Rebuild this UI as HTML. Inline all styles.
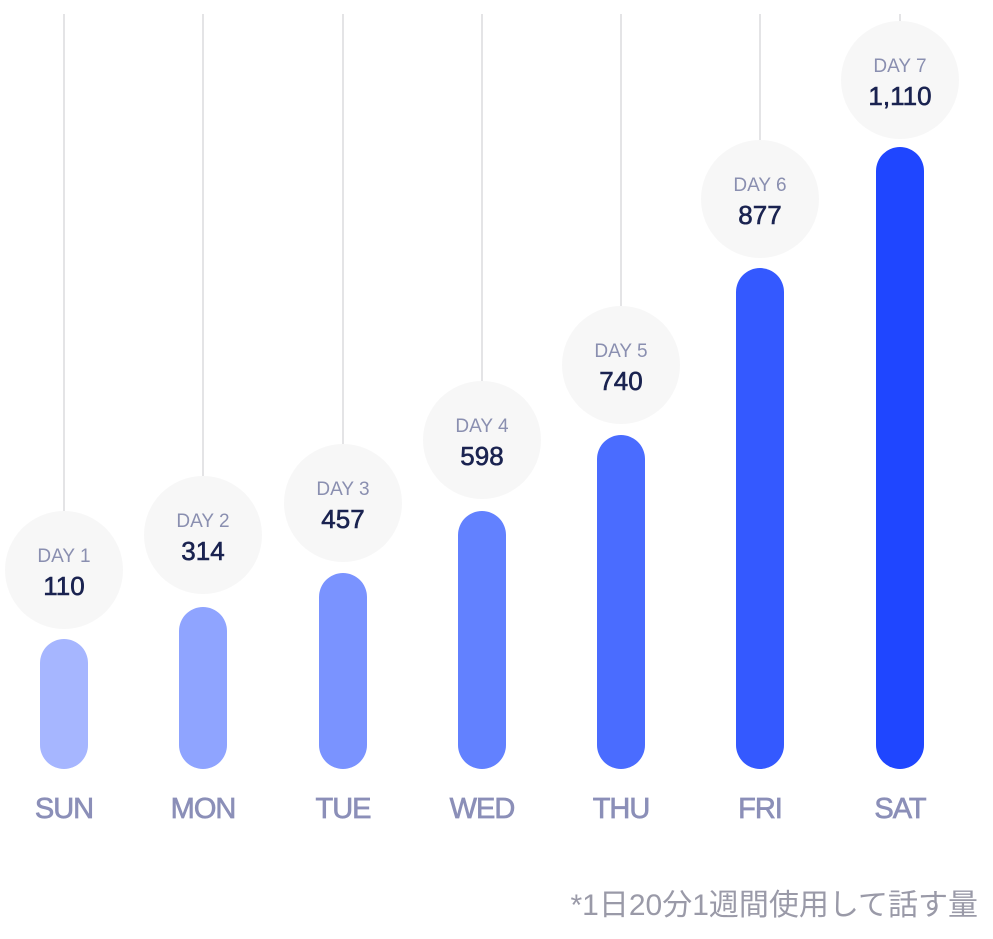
<!DOCTYPE html>
<html><head><meta charset="utf-8"><style>
html,body{margin:0;padding:0;background:#fff;}
svg{display:block;}
text{font-family:"Liberation Sans","Noto Sans CJK JP",sans-serif;text-anchor:middle;}
.d{fill:#8a8fb0;font-size:19px;}
.n{fill:#1a2350;font-size:26px;stroke:#1a2350;stroke-width:0.6px;}
.l{fill:#8b8fb8;font-size:29px;stroke:#8b8fb8;stroke-width:0.7px;letter-spacing:-1px;}
</style></head><body>
<svg width="993" height="939" viewBox="0 0 993 939">
<g stroke="#e4e4e6" stroke-width="2">
<line x1="64" y1="14" x2="64" y2="512"/>
<line x1="203" y1="14" x2="203" y2="477"/>
<line x1="343" y1="14" x2="343" y2="445"/>
<line x1="482" y1="14" x2="482" y2="382"/>
<line x1="621" y1="14" x2="621" y2="307"/>
<line x1="760" y1="14" x2="760" y2="141"/>
<line x1="900" y1="14" x2="900" y2="22"/>
</g>
<g fill="#f7f7f7">
<circle cx="64" cy="570" r="59"/>
<circle cx="203" cy="535" r="59"/>
<circle cx="343" cy="503" r="59"/>
<circle cx="482" cy="440" r="59"/>
<circle cx="621" cy="365" r="59"/>
<circle cx="760" cy="199" r="59"/>
<circle cx="900" cy="80" r="59"/>
</g>
<rect x="40" y="639" width="48" height="130" rx="24" fill="#a6b6ff"/>
<rect x="179" y="607" width="48" height="162" rx="24" fill="#8fa4ff"/>
<rect x="319" y="573" width="48" height="196" rx="24" fill="#7a93ff"/>
<rect x="458" y="511" width="48" height="258" rx="24" fill="#6281ff"/>
<rect x="597" y="435" width="48" height="334" rx="24" fill="#4a6cff"/>
<rect x="736" y="268" width="48" height="501" rx="24" fill="#3459ff"/>
<rect x="876" y="147" width="48" height="622" rx="24" fill="#1f46ff"/>
<text class="d" x="64" y="562">DAY 1</text><text class="n" x="64" y="595">110</text>
<text class="d" x="203" y="527">DAY 2</text><text class="n" x="203" y="560">314</text>
<text class="d" x="343" y="495">DAY 3</text><text class="n" x="343" y="528">457</text>
<text class="d" x="482" y="432">DAY 4</text><text class="n" x="482" y="465">598</text>
<text class="d" x="621" y="357">DAY 5</text><text class="n" x="621" y="390">740</text>
<text class="d" x="760" y="191">DAY 6</text><text class="n" x="760" y="224">877</text>
<text class="d" x="900" y="72">DAY 7</text><text class="n" x="900" y="105">1,110</text>
<text class="l" x="64" y="818">SUN</text>
<text class="l" x="203" y="818">MON</text>
<text class="l" x="343" y="818">TUE</text>
<text class="l" x="482" y="818">WED</text>
<text class="l" x="621" y="818">THU</text>
<text class="l" x="760" y="818">FRI</text>
<text class="l" x="900" y="818">SAT</text>
<text x="978" y="915" style="text-anchor:end;fill:#9a9aa8;font-size:30px;">*1日20分1週間使用して話す量</text>
</svg>
</body></html>
